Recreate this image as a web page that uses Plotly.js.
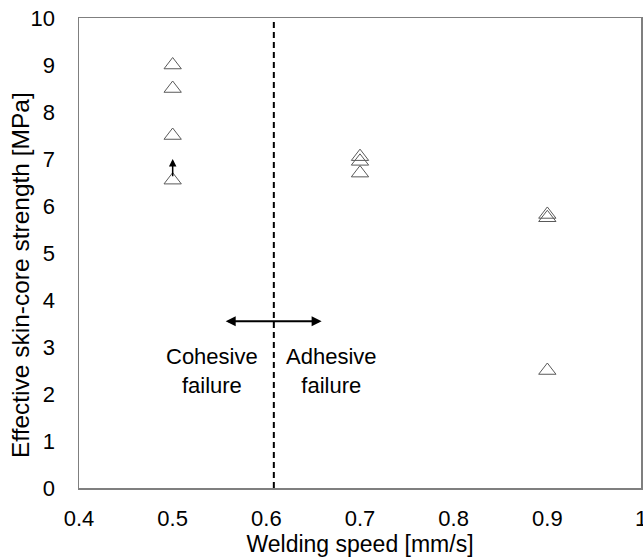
<!DOCTYPE html>
<html>
<head>
<meta charset="utf-8">
<script src="https://cdn.plot.ly/plotly-3.0.1.min.js"></script>
<style>html,body{margin:0;padding:0;background:#fff}#chart{width:643px;height:557px}</style>
</head>
<body>
<div id="chart"></div>
<script>
const speed = [0.5, 0.5, 0.5, 0.5, 0.7, 0.7, 0.7, 0.9, 0.9, 0.9];
const strength = [9.0, 8.5, 7.5, 6.55, 7.05, 6.95, 6.7, 5.82, 5.75, 2.5];
const boundarySpeed = 0.608;
const arrowRange = [0.555, 0.659];
const arrowLevel = 3.55;
const upArrow = {x: 0.5, from: 6.6, to: 7.0};
const regionLabels = ["Cohesive<br>failure", "Adhesive<br>failure"];
const regionLabelX = [0.542, 0.670];
const regionLabelY = 2.5;
const xTickVals = [0.4, 0.5, 0.6, 0.7, 0.8, 0.9, 1.0];
const xTickText = ['0.4', '0.5', '0.6', '0.7', '0.8', '0.9', '1'];
const xTitle = 'Welding speed [mm/s]';
const yTitle = 'Effective skin-core strength [MPa]';

const traces = [{
  x: speed, y: strength, type: 'scatter', mode: 'markers',
  marker: {symbol: 'triangle-up-open', size: 15, color: '#595959', line: {width: 1, color: '#595959'}},
  hoverinfo: 'x+y', showlegend: false
}];

const layout = {
  width: 643, height: 557,
  margin: {l: 79, r: 2, t: 18, b: 69},
  paper_bgcolor: '#fff', plot_bgcolor: '#fff',
  font: {family: 'Liberation Sans, Arial, sans-serif', size: 22, color: '#000'},
  xaxis: {
    range: [0.4, 1.0], showgrid: false, zeroline: false,
    showline: true, mirror: true, linecolor: '#7f7f7f', linewidth: 1.5,
    ticks: '', ticklabelstandoff: 10, ticklabeloverflow: 'allow',
    tickvals: xTickVals, ticktext: xTickText, tickfont: {size: 22},
    title: {text: xTitle, font: {size: 23}, standoff: 1}
  },
  yaxis: {
    range: [0, 10], dtick: 1, showgrid: false, zeroline: false,
    showline: true, mirror: true, linecolor: '#7f7f7f', linewidth: 1.5,
    ticks: '', ticklabelstandoff: 18, ticklabeloverflow: 'allow', tickfont: {size: 22}
  },
  shapes: [
    {type: 'line', xref: 'x', yref: 'y', x0: boundarySpeed, x1: boundarySpeed, y0: 0, y1: 10,
     line: {color: '#000', width: 2, dash: '6px,4px'}}
  ],
  annotations: [
    {x: -0.105, y: 0.453, xref: 'paper', yref: 'paper', text: yTitle, textangle: -90, showarrow: false,
     xanchor: 'center', yanchor: 'middle', font: {size: 24.5, color: '#000'}},
    {x: arrowRange[1], y: arrowLevel, ax: arrowRange[0], ay: arrowLevel, xref: 'x', yref: 'y', axref: 'x', ayref: 'y',
     showarrow: true, arrowhead: 2, arrowside: 'end+start', arrowsize: 1, arrowwidth: 2, arrowcolor: '#000', text: ''},
    {x: upArrow.x, y: upArrow.to, ax: upArrow.x, ay: upArrow.from, xref: 'x', yref: 'y', axref: 'x', ayref: 'y',
     showarrow: true, arrowhead: 2, arrowsize: 1, arrowwidth: 1.5, arrowcolor: '#000', text: ''},
    {x: regionLabelX[0], y: regionLabelY, xref: 'x', yref: 'y', text: regionLabels[0], showarrow: false,
     align: 'center', font: {size: 22, color: '#000'}},
    {x: regionLabelX[1], y: regionLabelY, xref: 'x', yref: 'y', text: regionLabels[1], showarrow: false,
     align: 'center', font: {size: 22, color: '#000'}}
  ]
};

Plotly.newPlot('chart', traces, layout, {displayModeBar: false, staticPlot: true});
</script>
</body>
</html>
